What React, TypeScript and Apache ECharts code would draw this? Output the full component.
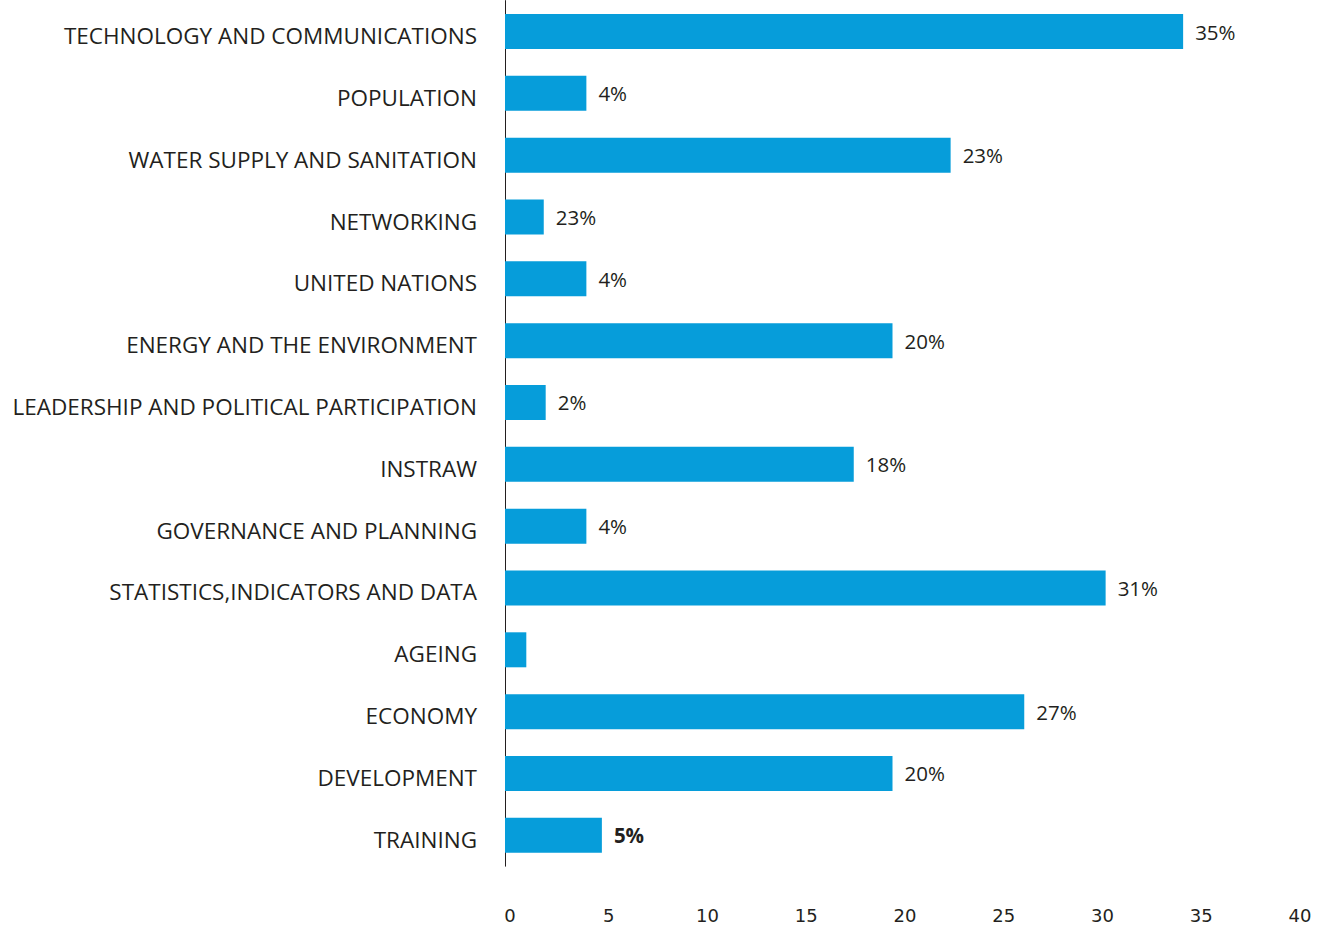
import React, { useEffect, useRef } from "react";
import * as echarts from "echarts";

const categories = [
  "TECHNOLOGY AND COMMUNICATIONS",
  "POPULATION",
  "WATER SUPPLY AND SANITATION",
  "NETWORKING",
  "UNITED NATIONS",
  "ENERGY AND THE ENVIRONMENT",
  "LEADERSHIP AND POLITICAL PARTICIPATION",
  "INSTRAW",
  "GOVERNANCE AND PLANNING",
  "STATISTICS,INDICATORS AND DATA",
  "AGEING",
  "ECONOMY",
  "DEVELOPMENT",
  "TRAINING",
];

const values = [35, 4.2, 23, 2, 4.2, 20, 2.1, 18, 4.2, 31, 1.1, 26.8, 20, 5];

const valueLabels = ["35%", "4%", "23%", "23%", "4%", "20%", "2%", "18%", "4%", "31%", "", "27%", "20%", "5%"];

const labelBold = [false, false, false, false, false, false, false, false, false, false, false, false, false, true];

const tickValues = [0, 5, 10, 15, 20, 25, 30, 35, 40];

const FONT = "'Open Sans', sans-serif";
const TICK_FONT = "'DejaVu Sans', sans-serif";
const TEXT = "#231f20";

export default function App() {
  const ref = useRef<HTMLDivElement>(null);
  useEffect(() => {
    if (!ref.current) return;
    const chart = echarts.init(ref.current, null, { renderer: "svg" });
    const data = values.map((v, i) => ({
      value: v,
      label: {
        formatter: valueLabels[i],
        fontWeight: labelBold[i] ? "bold" : "normal",
      },
    }));
    chart.setOption({
      animation: false,
      textStyle: { fontFamily: FONT, color: TEXT },
      grid: [
        { left: 505, top: 0.6, width: 775, height: 865.6 },
        { left: 510, top: 0.6, width: 790, height: 865.6 },
      ],
      xAxis: [
        {
          type: "value",
          gridIndex: 0,
          min: 0,
          max: 40,
          show: false,
        },
        {
          type: "value",
          gridIndex: 1,
          min: tickValues[0],
          max: tickValues[tickValues.length - 1],
          interval: 5,
          axisLine: { show: false },
          axisTick: { show: false },
          splitLine: { show: false },
          axisLabel: {
            margin: 40,
            fontSize: 18,
            color: TEXT,
            fontFamily: TICK_FONT,
          },
        },
      ],
      yAxis: [
        {
          type: "category",
          gridIndex: 0,
          data: categories,
          inverse: true,
          axisLine: { show: true, lineStyle: { color: "#231f20", width: 1 } },
          axisTick: { show: false },
          axisLabel: {
            margin: 28,
            color: TEXT,
            fontFamily: FONT,
            fontSize: 22.5,
            formatter: "{a|{value}}",
            rich: {
              a: {
                fontSize: 22.5,
                color: TEXT,
                fontFamily: FONT,
                padding: [8, 0, 0, 0],
              },
            },
          },
        },
        {
          type: "value",
          gridIndex: 1,
          show: false,
          min: 0,
          max: 1,
        },
      ],
      series: [
        {
          type: "bar",
          xAxisIndex: 0,
          yAxisIndex: 0,
          data,
          barWidth: 35,
          itemStyle: { color: "#069dda" },
          label: {
            show: true,
            position: "right",
            distance: 12,
            fontSize: 20.5,
            color: TEXT,
            fontFamily: FONT,
          },
        },
      ],
    });
    return () => chart.dispose();
  }, []);
  return (
    <div
      ref={ref}
      style={{ position: "absolute", left: 0, top: 0, width: 1317, height: 926 }}
    />
  );
}
